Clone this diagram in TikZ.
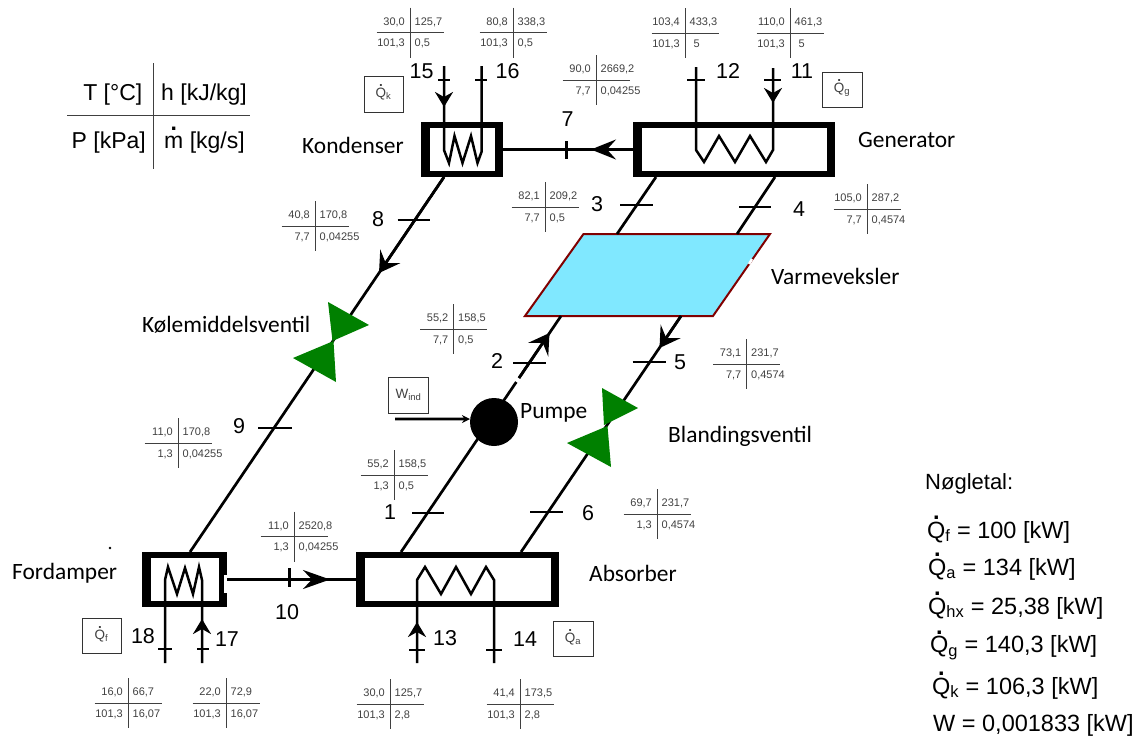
\documentclass[tikz,border=0pt]{standalone}
\usepackage{fontspec}
\setmainfont{Liberation Sans}
\newfontfamily\calfont{Carlito}
\usetikzlibrary{arrows.meta}
\definecolor{valvegreen}{RGB}{0,128,0}
\definecolor{hxblue}{RGB}{128,232,255}
\definecolor{hxred}{RGB}{128,0,0}
\tikzset{
  cellnum/.style={inner sep=0pt, text=black!75, font=\fontsize{11}{13}\selectfont},
  crossline/.style={line width=0.9pt, draw=black!75},
  streamnum/.style={inner sep=0pt, font=\fontsize{21.5}{24}\selectfont},
  compname/.style={inner sep=0pt, anchor=west, font=\calfont\fontsize{23.4}{26}\selectfont},
  keyline/.style={inner sep=0pt, anchor=west, font=\fontsize{23.5}{26}\selectfont},
  legendtxt/.style={inner sep=0pt, font=\fontsize{23}{26}\selectfont},
  pipe/.style={line width=2.7pt},
  tickmark/.style={line width=2pt},
  flowbig/.style={pipe, -{Stealth[length=20pt,width=24pt,inset=8pt]}},
  flowsmall/.style={pipe, -{Stealth[length=15pt,width=18pt,inset=5pt]}},
  coil/.style={line width=2.5pt, line join=miter},
  dutybox/.style={draw=black!80, line width=0.9pt, inner sep=0pt, text=black!75, font=\fontsize{13.5}{15}\selectfont},
  hxouter/.style={fill=black, inner sep=0pt, outer sep=0pt},
  hxinner/.style={fill=white, inner sep=0pt, outer sep=0pt}
}
% dot over a letter
\newcommand{\dotted}[1]{\ooalign{#1\cr\hidewidth\smash{\raisebox{0.79em}{\textbf{.}}}\hidewidth\cr}}
% name, x, y, T, h, P, m
\newcommand{\statecross}[7]{
  \draw[crossline] (#2-33.5,#3) -- (#2+33.5,#3);
  \draw[crossline] (#2,#3-25) -- (#2,#3+25);
  \node[cellnum,anchor=east] (T#1) at (#2-5,#3-10.5) {#4};
  \node[cellnum,anchor=west] (h#1) at (#2+4.5,#3-10.5) {#5};
  \node[cellnum,anchor=east] (P#1) at (#2-5,#3+11) {#6};
  \node[cellnum,anchor=west] (m#1) at (#2+4.5,#3+11) {#7};
}
% name, x, y, width, height
\newcommand{\hxbox}[5]{
  \node[hxouter,minimum width=#4,minimum height=#5] (#1) at (#2,#3) {};
  \node[hxinner,minimum width=#4-17,minimum height=#5-12] (#1in) at (#2,#3) {};
}
\begin{document}
\begin{tikzpicture}[x=1pt,y=-1pt]
\useasboundingbox (0,0) rectangle (1138,736);

% legend
\draw[crossline] (67,115) -- (250,115);
\draw[crossline] (153.5,63) -- (153.5,169);
\node[legendtxt,anchor=east] (legT) at (142.5,95) {T [°C]};
\node[legendtxt,anchor=west] (legh) at (161,95) {h [kJ/kg]};
\node[legendtxt,anchor=east] (legP) at (146,143) {P [kPa]};
\node[legendtxt,anchor=west] (legm) at (164,143) {\dotted{m} [kg/s]};

% components
\hxbox{kondenser}{462}{149.5}{82}{55}
\hxbox{generator}{734}{149.5}{202}{55}
\hxbox{fordamper}{184.5}{579.5}{85}{55}
\hxbox{absorber}{457.5}{579.5}{203}{55}
\fill[white] (224,575) rectangle (227.5,593);

\coordinate (k8) at (444,177);
\coordinate (f9) at (190,552);
\coordinate (tip8) at (379,273);
\coordinate (g3) at (656,177);
\coordinate (h3) at (617,234);
\coordinate (g4) at (775,177);
\coordinate (h4) at (737,234);
\coordinate (h2) at (561,316);
\coordinate (tip2) at (549.5,333);
\coordinate (gapa) at (516.3,382);
\coordinate (gapb) at (519,378);
\coordinate (a1) at (401,552);
\coordinate (h5) at (681,316);
\coordinate (tip5) at (659.5,348);
\coordinate (a6) at (521,552);
\coordinate (wstart) at (395,419);
\coordinate (tip7) at (591,149.5);
\coordinate (tip10) at (330,579.5);

% heat exchanger
\draw[draw=hxred,fill=hxblue,line width=2pt] (583.5,234) -- (770,234) -- (713,316) -- (525,316) -- cycle;
\draw[white,line width=2.5pt] (752,259) -- (749,264);

% main lines
\draw[pipe] (k8) -- (f9);
\draw[flowbig] (k8) -- (tip8);
\draw[pipe] (g3) -- (h3);
\draw[pipe] (g4) -- (h4);
\draw[pipe] (a1) -- (gapa);
\draw[pipe] (gapb) -- (h2);
\draw[flowbig] (gapb) -- (tip2);
\draw[pipe] (h5) -- (a6);
\draw[flowbig] (h5) -- (tip5);
\draw[pipe] (generator.west) -- (kondenser.east);
\draw[pipe,-{Stealth[length=25pt,width=20pt,inset=9pt]}] (generator.west) -- (tip7);
\draw[pipe] (fordamper.east) -- (absorber.west);
\draw[pipe,-{Stealth[length=27pt,width=19pt,inset=9pt]}] (fordamper.east) -- (tip10);
\node[circle,fill=black,inner sep=0pt,minimum size=48pt] (pumpe) at (494,422) {};
\draw[pipe,-{Stealth[length=8pt,width=8pt]}] (wstart) -- (pumpe.173);

% valves
\fill[valvegreen] (328,302) -- (369,325) -- (332.5,341) -- cycle;
\fill[valvegreen] (293,358) -- (333.5,341) -- (336,382) -- cycle;
\fill[valvegreen] (602,388) -- (638,408) -- (604,425) -- cycle;
\fill[valvegreen] (567,443) -- (607.5,426) -- (611,467) -- cycle;

% coils and pipes
\draw[coil] (444,66) -- (444,150) -- (449,163) -- (454.5,136) -- (462.5,163) -- (471,136) -- (477.5,163) -- (481.5,152) -- (481.5,66);
\draw[coil] (696,67) -- (696,150) -- (704,162) -- (719,136) -- (735,162) -- (750,136) -- (766,162) -- (773,150) -- (773,68);
\draw[coil] (165,663) -- (165,580) -- (168,567) -- (177,594) -- (185,568) -- (193,594) -- (199,567) -- (202,580) -- (202,663);
\draw[coil] (417,663) -- (417,580) -- (425,567) -- (441,594) -- (456,567) -- (471,594) -- (486,567) -- (494,580) -- (494,663);
\coordinate (p15) at (444,85);
\coordinate (q15) at (444,107);
\coordinate (p11) at (773,85);
\coordinate (q11) at (773,103);
\coordinate (p17) at (202,640);
\coordinate (q17) at (202,619);
\coordinate (p13) at (417,640);
\coordinate (q13) at (417,622);
\draw[flowsmall] (p15) -- (q15);
\draw[flowsmall] (p11) -- (q11);
\draw[flowsmall] (p17) -- (q17);
\draw[flowsmall] (p13) -- (q13);

% ticks
\draw[tickmark] (397.5,220) -- (430,220);
\draw[tickmark] (620,205) -- (653,205);
\draw[tickmark] (739,207) -- (771,207);
\draw[tickmark] (513,363) -- (546,363);
\draw[tickmark] (632.5,362) -- (666,362);
\draw[tickmark] (258,428) -- (292,428);
\draw[tickmark] (412,513) -- (444,513);
\draw[tickmark] (530,512) -- (563,512);
\draw[tickmark,line width=3pt] (566,141) -- (566,159);
\draw[tickmark,line width=3pt] (289,568) -- (289,587);
\draw[tickmark] (438,80) -- (450,80);
\draw[tickmark] (475,80) -- (487,80);
\draw[tickmark] (687,80) -- (705,80);
\draw[tickmark] (764,80) -- (781,80);
\draw[tickmark] (158,649) -- (172,649);
\draw[tickmark] (197,649) -- (209,649);
\draw[tickmark] (409,650) -- (425,650);
\draw[tickmark] (486,650) -- (502,650);

% stream numbers
\node[streamnum] (n15) at (421.5,71) {15};
\node[streamnum] (n16) at (507.5,71) {16};
\node[streamnum] (n12) at (728,71) {12};
\node[streamnum] (n11) at (802,71) {11};
\node[streamnum] (n7) at (567.5,119) {7};
\node[streamnum] (n8) at (378,219) {8};
\node[streamnum] (n3) at (597,204) {3};
\node[streamnum] (n4) at (799,209) {4};
\node[streamnum] (n2) at (497,361) {2};
\node[streamnum] (n5) at (680,362) {5};
\node[streamnum] (n9) at (239,426) {9};
\node[streamnum] (n1) at (390,512) {1};
\node[streamnum] (n6) at (588,513) {6};
\node[streamnum] (n10) at (287,612) {10};
\node[streamnum] (n18) at (143,636) {18};
\node[streamnum] (n17) at (227,639) {17};
\node[streamnum] (n13) at (445,638) {13};
\node[streamnum] (n14) at (525,639) {14};

% component names
\node[compname] (tkondenser) at (302,145) {Kondenser};
\node[compname] (tgenerator) at (858,140) {Generator};
\node[compname] (tvarme) at (771,276) {Varmeveksler};
\node[compname] (tkoele) at (142,325) {Kølemiddelsventil};
\node[compname] (tpumpe) at (520,413) {Pumpe};
\node[compname] (tblanding) at (668,436) {Blandingsventil};
\node[compname] (tfordamper) at (12,573) {Fordamper};
\node[compname] (tabsorber) at (589,573) {Absorber};

% duties
\node[dutybox,minimum width=39pt,minimum height=36pt] (bqk) at (383.5,94) {\dotted{Q}\textsubscript{k}};
\node[dutybox,minimum width=40pt,minimum height=35pt] (bqg) at (842,89.5) {\dotted{Q}\textsubscript{g}};
\node[dutybox,minimum width=39.5pt,minimum height=36pt] (bw) at (408.5,395) {W\textsubscript{ind}};
\node[dutybox,minimum width=39pt,minimum height=35pt] (bqf) at (101.5,635.5) {\dotted{Q}\textsubscript{f}};
\node[dutybox,minimum width=40pt,minimum height=35pt] (bqa) at (573,638.5) {\dotted{Q}\textsubscript{a}};

\fill (110,548) circle (1.3pt);

% state tables
\statecross{15}{410}{32.5}{30,0}{125,7}{101,3}{0,5}
\statecross{16}{513}{32.5}{80,8}{338,3}{101,3}{0,5}
\statecross{12}{685}{33}{103,4}{433,3}{101,3}{\hspace{4pt}5}
\statecross{11}{790}{33}{110,0}{461,3}{101,3}{\hspace{4pt}5}
\statecross{7}{596}{80}{90,0}{2669,2}{7,7}{0,04255}
\statecross{3}{545}{207}{82,1}{209,2}{7,7}{0,5}
\statecross{4}{867}{209}{105,0}{287,2}{7,7}{0,4574}
\statecross{8}{315}{226}{40,8}{170,8}{7,7}{0,04255}
\statecross{2}{453.5}{329}{55,2}{158,5}{7,7}{0,5}
\statecross{5}{746.5}{364}{73,1}{231,7}{7,7}{0,4574}
\statecross{9}{178}{443}{11,0}{170,8}{1,3}{0,04255}
\statecross{1}{394}{475}{55,2}{158,5}{1,3}{0,5}
\statecross{6}{657}{514}{69,7}{231,7}{1,3}{0,4574}
\statecross{10}{294}{536.5}{11,0}{2520,8}{1,3}{0,04255}
\statecross{18}{128}{703}{16,0}{66,7}{101,3}{16,07}
\statecross{17}{226}{703}{22,0}{72,9}{101,3}{16,07}
\statecross{13}{390}{704}{30,0}{125,7}{101,3}{2,8}
\statecross{14}{520}{704}{41,4}{173,5}{101,3}{2,8}

% key figures
\node[keyline,font=\fontsize{22}{24}\selectfont] (key) at (925,484) {Nøgletal:};
\node[keyline] (kf) at (927,532) {\dotted{Q}\textsubscript{f} = 100 [kW]};
\node[keyline] (ka) at (928,569) {\dotted{Q}\textsubscript{a} = 134 [kW]};
\node[keyline] (khx) at (928,608) {\dotted{Q}\textsubscript{hx} = 25,38 [kW]};
\node[keyline] (kg) at (930,648) {\dotted{Q}\textsubscript{g} = 140,3 [kW]};
\node[keyline] (kk) at (932,688) {\dotted{Q}\textsubscript{k} = 106,3 [kW]};
\node[keyline] (kw) at (933,725) {W = 0,001833 [kW]};
\end{tikzpicture}
\end{document}
